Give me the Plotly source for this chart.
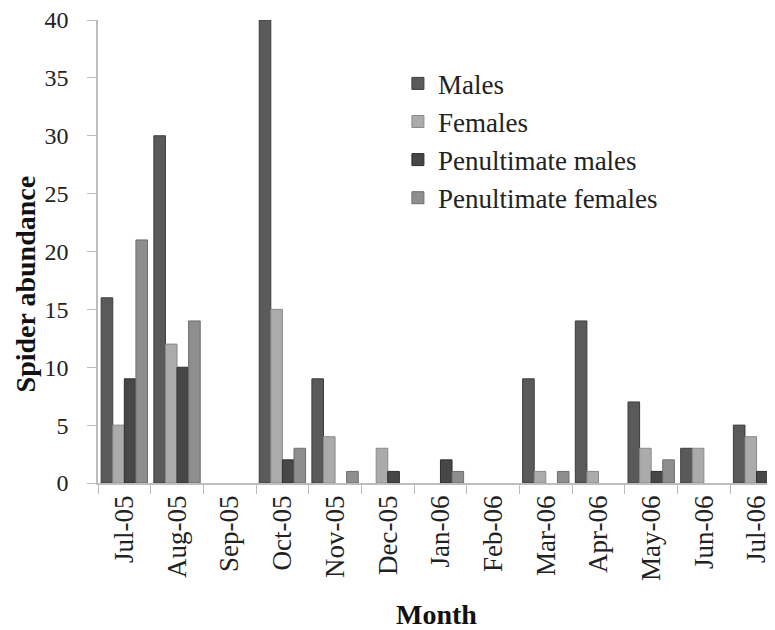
import plotly.graph_objects as go

months = ["Jul-05", "Aug-05", "Sep-05", "Oct-05", "Nov-05", "Dec-05", "Jan-06",
          "Feb-06", "Mar-06", "Apr-06", "May-06", "Jun-06", "Jul-06"]
males = [16, 30, 0, 40, 9, 0, 0, 0, 9, 14, 7, 3, 5]
females = [5, 12, 0, 15, 4, 3, 0, 0, 1, 1, 3, 3, 4]
pen_males = [9, 10, 0, 2, 0, 1, 2, 0, 0, 0, 1, 0, 1]
pen_females = [21, 14, 0, 3, 1, 0, 1, 0, 1, 0, 2, 0, 0]

series = [
    ("Males", males, "#5a5a5a", "#3c3c3c"),
    ("Females", females, "#ababab", "#8a8a8a"),
    ("Penultimate males", pen_males, "#474747", "#2e2e2e"),
    ("Penultimate females", pen_females, "#8e8e8e", "#6e6e6e"),
]

fig = go.Figure()
for name, vals, col, edge in series:
    widths = [1 if v > 0 else 0 for v in vals]
    fig.add_trace(go.Bar(x=months, y=vals, name=name,
                         marker=dict(color=col, line=dict(color=edge, width=widths))))

font_family = "Liberation Serif, Times New Roman, Times, serif"
# The page body has an 8px margin, so the figure is sized to fit the window.
fig.update_layout(
    width=767, height=622,
    margin=dict(l=90, r=0, t=12, b=147, autoexpand=False),
    paper_bgcolor="white", plot_bgcolor="white",
    barmode="group", bargap=0.12, bargroupgap=0,
    font=dict(family=font_family, color="#222222"),
    showlegend=True,
    legend=dict(x=0.443, y=0.915, xanchor="left", yanchor="top",
                font=dict(size=27, family=font_family, color="#222222"),
                bgcolor="rgba(0,0,0,0)", itemwidth=30, tracegroupgap=0),
    annotations=[dict(text="<b>Spider abundance</b>", textangle=-90,
                      xref="paper", yref="paper", x=-0.1329, y=0.43,
                      xanchor="left", yanchor="middle", showarrow=False,
                      font=dict(size=28, family=font_family, color="#111111"))],
)
fig.update_xaxes(
    type="category", range=[-0.5, 12.35], automargin=False,
    tickson="boundaries", ticks="outside", ticklen=9, tickcolor="#bdbdbd",
    showline=True, linecolor="#bdbdbd", linewidth=1.5,
    ticklabeloverflow="allow",
    tickangle=-90, tickfont=dict(size=27, family=font_family, color="#222222"),
    title=dict(text="<b>Month</b>", font=dict(size=28, family=font_family, color="#111111"), standoff=34),
    showgrid=False,
)
fig.update_yaxes(
    range=[0, 40], dtick=5, ticks="outside", ticklen=9, tickcolor="#bdbdbd",
    showline=True, linecolor="#bdbdbd", linewidth=1.5, automargin=False,
    ticklabelstandoff=14, ticklabeloverflow="allow",
    tickfont=dict(size=24, family=font_family, color="#222222"),
    showgrid=False, zeroline=False,
)
fig.write_html("out.html")
